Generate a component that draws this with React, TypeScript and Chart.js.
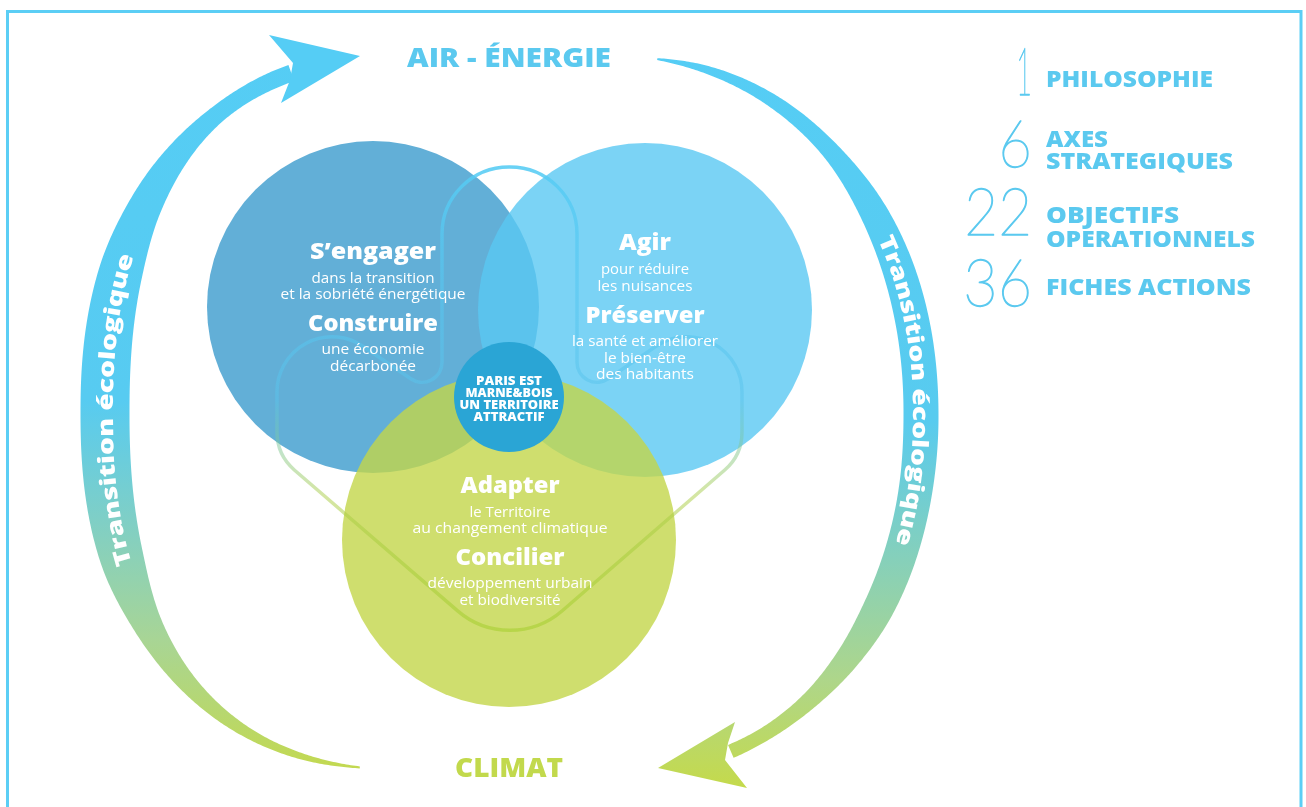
import React, { useEffect, useRef } from "react";
import { Chart, registerables } from "chart.js";

Chart.register(...registerables);

const CANVAS_W = 1306;
const CANVAS_H = 807;

// ---------------- Data ----------------
const poleTitles = ["AIR - ÉNERGIE", "CLIMAT"];
const arcLabels = ["Transition écologique", "Transition écologique"];

const circleNames = ["S’engager / Construire", "Agir / Préserver", "Adapter / Concilier", "Paris Est Marne&Bois"];
const circleX = [373, 645, 509, 509];
const circleY = [307, 310, 540, 397];
const circleR = [166, 167, 167, 55];

const circleHeadlines = [
  ["S’engager", "Construire"],
  ["Agir", "Préserver"],
  ["Adapter", "Concilier"],
];
const circleSublines = [
  [["dans la transition", "et la sobriété énergétique"], ["une économie", "décarbonée"]],
  [["pour réduire", "les nuisances"], ["la santé et améliorer", "le bien-être", "des habitants"]],
  [["le Territoire", "au changement climatique"], ["développement urbain", "et biodiversité"]],
];
const centerLines = ["PARIS EST", "MARNE&BOIS", "UN TERRITOIRE", "ATTRACTIF"];

const statValues = ["1", "6", "22", "36"];
const statLabels = [["PHILOSOPHIE"], ["AXES", "STRATEGIQUES"], ["OBJECTIFS", "OPERATIONNELS"], ["FICHES ACTIONS"]];

// ---------------- Layout / style (not data) ----------------
const HEAVY = "'Open Sans', 'DejaVu Sans', sans-serif";
const BLUE_TXT = "#5BC9EF";
const GREEN_TXT = "#C2D94C";
const circleColors = ["#62AFD7", "rgba(90,200,242,0.8)", "rgba(195,214,74,0.8)", "#2AA5D5"];

const circleTextLayout = [
  { cx: 373, lines: [[259, 126], [283, 123], [299, 185], [331, 130], [354, 103], [371, 86]] },
  { cx: 645, lines: [[250, 52], [274, 88], [291, 95], [323, 119], [346, 146], [363, 82], [379, 98]] },
  { cx: 510, lines: [[493, 99], [517, 81], [533, 195], [565, 109], [588, 165], [605, 101]] },
];
const centerTextLayout = { cx: 509, lines: [[385, 66], [397, 87], [409, 99], [421, 71]] };

const statLayout = {
  numRight: 1032,
  numBase: [95, 167, 235, 306],
  numWidth: [17, 35, 69, 70],
  labelLeft: 1046,
  labelBase: [[87], [147, 169], [223, 247], [295]],
  labelWidth: [[167], [62, 187], [133, 209], [205]],
};

const leftArc = { cx: 400, cy: 413, a: 295, b: 356, n: 2.3, textY: 410 };
const leftArcAngles = [251.5, 233.7, 212.3, 199.6, 180, 160, 146.5, 134, 119, 105.7, 95.8];
const leftArcWidths = [17, 18, 33, 44, 49, 44, 29, 19, 11, 6, 2];
const leftArrowHead: [number, number][] = [[293, 63], [269, 35], [360, 56], [281, 103], [290, 80]];

const rightArc = { cx: 620, cy: 415, a: 301, b: 358, n: 2.1, textY: 390 };
const rightArcAngles = [-83.6, -74.2, -61.2, -46.7, -32.5, -19.2, 0, 9.6, 30.9, 41.7, 51.9, 61.9, 69.5];
const rightArcWidths = [2, 8, 13, 18, 28, 33, 35, 34, 31, 24, 17, 14, 14];
const rightArrowHead: [number, number][] = [[728, 743], [735, 722], [658, 768], [747, 788], [725, 760]];

type P3 = [number, number, number];
const outlineCorners: P3[] = [
  [442, 167, 67], [577, 167, 67], [577, 400, 20], [742, 288, 55], [742, 455, 50],
  [510, 656, 80], [277, 455, 50], [277, 288, 55], [442, 400, 20],
];

// ---------------- helpers ----------------
function hermiteAt(xs: number[], ys: number[], x: number) {
  const n = xs.length;
  const dir = xs[n - 1] > xs[0] ? 1 : -1;
  let i = 0;
  while (i < n - 2 && (x - xs[i + 1]) * dir > 0) i++;
  const slope = (k: number) => {
    const a = Math.max(0, k - 1), b = Math.min(n - 1, k + 1);
    return (ys[b] - ys[a]) / (xs[b] - xs[a]);
  };
  const x0 = xs[i], x1 = xs[i + 1], h = x1 - x0;
  const t = Math.min(1, Math.max(0, (x - x0) / h));
  const m0 = slope(i) * h, m1 = slope(i + 1) * h;
  const t2 = t * t, t3 = t2 * t;
  return (2 * t3 - 3 * t2 + 1) * ys[i] + (t3 - 2 * t2 + t) * m0 + (-2 * t3 + 3 * t2) * ys[i + 1] + (t3 - t2) * m1;
}

function arcSamples(arc: any, angles: number[], widths: number[], X: (v: number) => number, Y: (v: number) => number, steps = 400): P3[] {
  const out: P3[] = [];
  const e = 2 / arc.n;
  for (let s = 0; s <= steps; s++) {
    const th = angles[0] + ((angles[angles.length - 1] - angles[0]) * s) / steps;
    const r = (th * Math.PI) / 180;
    const c = Math.cos(r), sn = Math.sin(r);
    const x = arc.cx + arc.a * Math.sign(c) * Math.pow(Math.abs(c), e);
    const y = arc.cy + arc.b * Math.sign(sn) * Math.pow(Math.abs(sn), e);
    out.push([X(x), Y(y), Math.max(1.5, hermiteAt(angles, widths, th))]);
  }
  return out;
}

function bandPath(ctx: CanvasRenderingContext2D, d: P3[]) {
  const left: number[][] = [], right: number[][] = [];
  for (let i = 0; i < d.length; i++) {
    const a = d[Math.max(0, i - 1)], b = d[Math.min(d.length - 1, i + 1)];
    let tx = b[0] - a[0], ty = b[1] - a[1];
    const L = Math.hypot(tx, ty) || 1;
    tx /= L; ty /= L;
    const nx = -ty, ny = tx, h = d[i][2] / 2;
    left.push([d[i][0] + nx * h, d[i][1] + ny * h]);
    right.push([d[i][0] - nx * h, d[i][1] - ny * h]);
  }
  ctx.beginPath();
  ctx.moveTo(left[0][0], left[0][1]);
  left.forEach((p) => ctx.lineTo(p[0], p[1]));
  for (let i = right.length - 1; i >= 0; i--) ctx.lineTo(right[i][0], right[i][1]);
  ctx.closePath();
}

function textOnPath(ctx: CanvasRenderingContext2D, d: P3[], text: string, centerY: number, len: number, size: number, font: string, reverse: boolean) {
  const pts = d.map((p) => [p[0], p[1]]);
  if (reverse) pts.reverse();
  const cum = [0];
  for (let i = 1; i < pts.length; i++) cum.push(cum[i - 1] + Math.hypot(pts[i][0] - pts[i - 1][0], pts[i][1] - pts[i - 1][1]));
  let best = 0;
  pts.forEach((p, i) => { if (Math.abs(p[1] - centerY) < Math.abs(pts[best][1] - centerY)) best = i; });
  const sc = cum[best];
  const at = (s: number) => {
    let i = 1;
    while (i < cum.length - 1 && cum[i] < s) i++;
    const a = pts[i - 1], b = pts[i];
    const t = (s - cum[i - 1]) / ((cum[i] - cum[i - 1]) || 1);
    return { x: a[0] + (b[0] - a[0]) * t, y: a[1] + (b[1] - a[1]) * t, ang: Math.atan2(b[1] - a[1], b[0] - a[0]) };
  };
  ctx.font = font;
  const chars = [...text];
  const ws = chars.map((c) => ctx.measureText(c).width);
  const total = ws.reduce((a, b) => a + b, 0);
  const k = len / total;
  let s = sc - len / 2;
  ctx.textAlign = "center";
  ctx.textBaseline = "alphabetic";
  chars.forEach((c, j) => {
    const cw = ws[j] * k;
    const p = at(s + cw / 2);
    ctx.save();
    ctx.translate(p.x, p.y);
    ctx.rotate(p.ang);
    ctx.scale(k, 1);
    ctx.fillText(c, 0, size * 0.36);
    ctx.restore();
    s += cw;
  });
}

function drawFit(ctx: CanvasRenderingContext2D, str: string, x: number, y: number, w: number, font: string, align: CanvasTextAlign, strokeW = 0) {
  ctx.font = font;
  const m = ctx.measureText(str).width || 1;
  const k = w ? (w - strokeW) / m : 1;
  ctx.save();
  ctx.translate(x, y);
  ctx.scale(k, 1);
  ctx.textAlign = align;
  ctx.textBaseline = "alphabetic";
  ctx.fillText(str, 0, 0);
  if (strokeW) {
    ctx.lineWidth = strokeW;
    ctx.lineJoin = "round";
    ctx.strokeStyle = ctx.fillStyle;
    ctx.strokeText(str, 0, 0);
  }
  ctx.restore();
}

const decorPlugin = {
  id: "decor",
  beforeDatasetsDraw(chart: any) {
    const ctx: CanvasRenderingContext2D = chart.ctx;
    const xs = chart.scales.x, ys = chart.scales.y;
    const X = (v: number) => xs.getPixelForValue(v);
    const Y = (v: number) => ys.getPixelForValue(v);

    ctx.save();
    ctx.fillStyle = "#ffffff";
    ctx.fillRect(0, 0, chart.width, chart.height);
    ctx.strokeStyle = "#5BCEF5";
    ctx.lineWidth = 3;
    ctx.strokeRect(X(7.5), Y(11.5), X(1301) - X(7.5), Y(830) - Y(11.5));

    const gl = ctx.createLinearGradient(0, Y(30), 0, Y(775));
    gl.addColorStop(0, "#55CDF5");
    gl.addColorStop((400 - 30) / 745, "#57CBF1");
    gl.addColorStop((520 - 30) / 745, "#7FCFC6");
    gl.addColorStop((640 - 30) / 745, "#A8D595");
    gl.addColorStop(1, "#C4D94D");
    const dl = arcSamples(leftArc, leftArcAngles, leftArcWidths, X, Y);
    ctx.fillStyle = gl;
    bandPath(ctx, dl);
    ctx.fill();
    ctx.beginPath();
    leftArrowHead.forEach((p, i) => (i ? ctx.lineTo(X(p[0]), Y(p[1])) : ctx.moveTo(X(p[0]), Y(p[1]))));
    ctx.closePath();
    ctx.fillStyle = "#55CDF5";
    ctx.fill();

    const gr = ctx.createLinearGradient(0, Y(50), 0, Y(790));
    gr.addColorStop(0, "#55CDF5");
    gr.addColorStop((420 - 50) / 740, "#58CBEF");
    gr.addColorStop((560 - 50) / 740, "#86D0BA");
    gr.addColorStop((680 - 50) / 740, "#AED68A");
    gr.addColorStop(1, "#C5DA4A");
    const dr = arcSamples(rightArc, rightArcAngles, rightArcWidths, X, Y);
    ctx.fillStyle = gr;
    bandPath(ctx, dr);
    ctx.fill();
    ctx.beginPath();
    rightArrowHead.forEach((p, i) => (i ? ctx.lineTo(X(p[0]), Y(p[1])) : ctx.moveTo(X(p[0]), Y(p[1]))));
    ctx.closePath();
    ctx.fill();

    ctx.fillStyle = "#ffffff";
    textOnPath(ctx, dl, arcLabels[0], Y(leftArc.textY), 316, 22, `800 22px ${HEAVY}`, true);
    textOnPath(ctx, dr, arcLabels[1], Y(rightArc.textY), 316, 22, `800 22px ${HEAVY}`, false);
    ctx.restore();
  },
  afterDatasetsDraw(chart: any) {
    const ctx: CanvasRenderingContext2D = chart.ctx;
    const xs = chart.scales.x, ys = chart.scales.y;
    const X = (v: number) => xs.getPixelForValue(v);
    const Y = (v: number) => ys.getPixelForValue(v);
    ctx.save();

    const c = outlineCorners.map((p) => [X(p[0]), Y(p[1]), p[2]]);
    const n = c.length;
    ctx.beginPath();
    const last = c[n - 1];
    ctx.moveTo((last[0] + c[0][0]) / 2, (last[1] + c[0][1]) / 2);
    for (let i = 0; i < n; i++) {
      const cur = c[i], nxt = c[(i + 1) % n];
      ctx.arcTo(cur[0], cur[1], nxt[0], nxt[1], cur[2]);
    }
    ctx.closePath();
    const go = ctx.createLinearGradient(0, Y(160), 0, Y(640));
    go.addColorStop(0, "rgba(86,204,244,0.9)");
    go.addColorStop(0.25, "rgba(86,200,242,0.6)");
    go.addColorStop(0.5, "rgba(90,195,235,0.5)");
    go.addColorStop(0.7, "rgba(170,205,70,0.5)");
    go.addColorStop(1, "rgba(175,210,60,0.75)");
    ctx.strokeStyle = go;
    ctx.lineWidth = 3.5;
    ctx.stroke();

    ctx.fillStyle = BLUE_TXT;
    drawFit(ctx, poleTitles[0], X(509), Y(67), 204, `800 27px ${HEAVY}`, "center");
    ctx.fillStyle = GREEN_TXT;
    drawFit(ctx, poleTitles[1], X(509), Y(777), 108, `800 27px ${HEAVY}`, "center");

    ctx.fillStyle = "#ffffff";
    circleTextLayout.forEach((lay, ci) => {
      const seq: [string, boolean][] = [];
      circleHeadlines[ci].forEach((h, hi) => {
        seq.push([h, true]);
        circleSublines[ci][hi].forEach((s) => seq.push([s, false]));
      });
      seq.forEach(([str, bold], li) => {
        const [base, w] = lay.lines[li];
        drawFit(ctx, str, X(lay.cx), Y(base), w, bold ? `800 22px ${HEAVY}` : `400 15px ${HEAVY}`, "center");
      });
    });
    centerLines.forEach((str, i) => {
      const [base, w] = centerTextLayout.lines[i];
      drawFit(ctx, str, X(centerTextLayout.cx), Y(base), w, `800 12px ${HEAVY}`, "center");
    });

    ctx.fillStyle = BLUE_TXT;
    statValues.forEach((v, i) => {
      drawFit(ctx, v, X(statLayout.numRight), Y(statLayout.numBase[i]), statLayout.numWidth[i], `200 66px Lato, 'Open Sans', sans-serif`, "right", 1.3);
      statLabels[i].forEach((lab, j) => {
        drawFit(ctx, lab, X(statLayout.labelLeft), Y(statLayout.labelBase[i][j]), statLayout.labelWidth[i][j], `800 23px ${HEAVY}`, "left");
      });
    });
    ctx.restore();
  },
};

export default function App() {
  const ref = useRef<HTMLCanvasElement>(null);
  useEffect(() => {
    document.body.style.margin = "0";
    const chart = new Chart(ref.current as HTMLCanvasElement, {
      type: "bubble",
      data: {
        datasets: [
          {
            label: "Axes",
            data: circleX.map((x, i) => ({ x, y: circleY[i], r: circleR[i], name: circleNames[i] })) as any,
            backgroundColor: circleColors,
            borderWidth: 0,
            hoverRadius: 0,
            hoverBorderWidth: 0,
          },
        ],
      },
      options: {
        animation: false,
        responsive: false,
        devicePixelRatio: 1,
        events: [],
        layout: { padding: 0, autoPadding: false },
        plugins: { legend: { display: false }, tooltip: { enabled: false } },
        scales: {
          x: { type: "linear", min: 0, max: CANVAS_W, display: false },
          y: { type: "linear", min: 0, max: CANVAS_H, reverse: true, display: false },
        },
      } as any,
      plugins: [decorPlugin as any],
    });
    return () => chart.destroy();
  }, []);
  return (
    <div style={{ position: "absolute", left: 0, top: 0, width: CANVAS_W, height: CANVAS_H, background: "#fff" }}>
      <canvas ref={ref} width={CANVAS_W} height={CANVAS_H} style={{ display: "block", width: CANVAS_W, height: CANVAS_H }} />
    </div>
  );
}
